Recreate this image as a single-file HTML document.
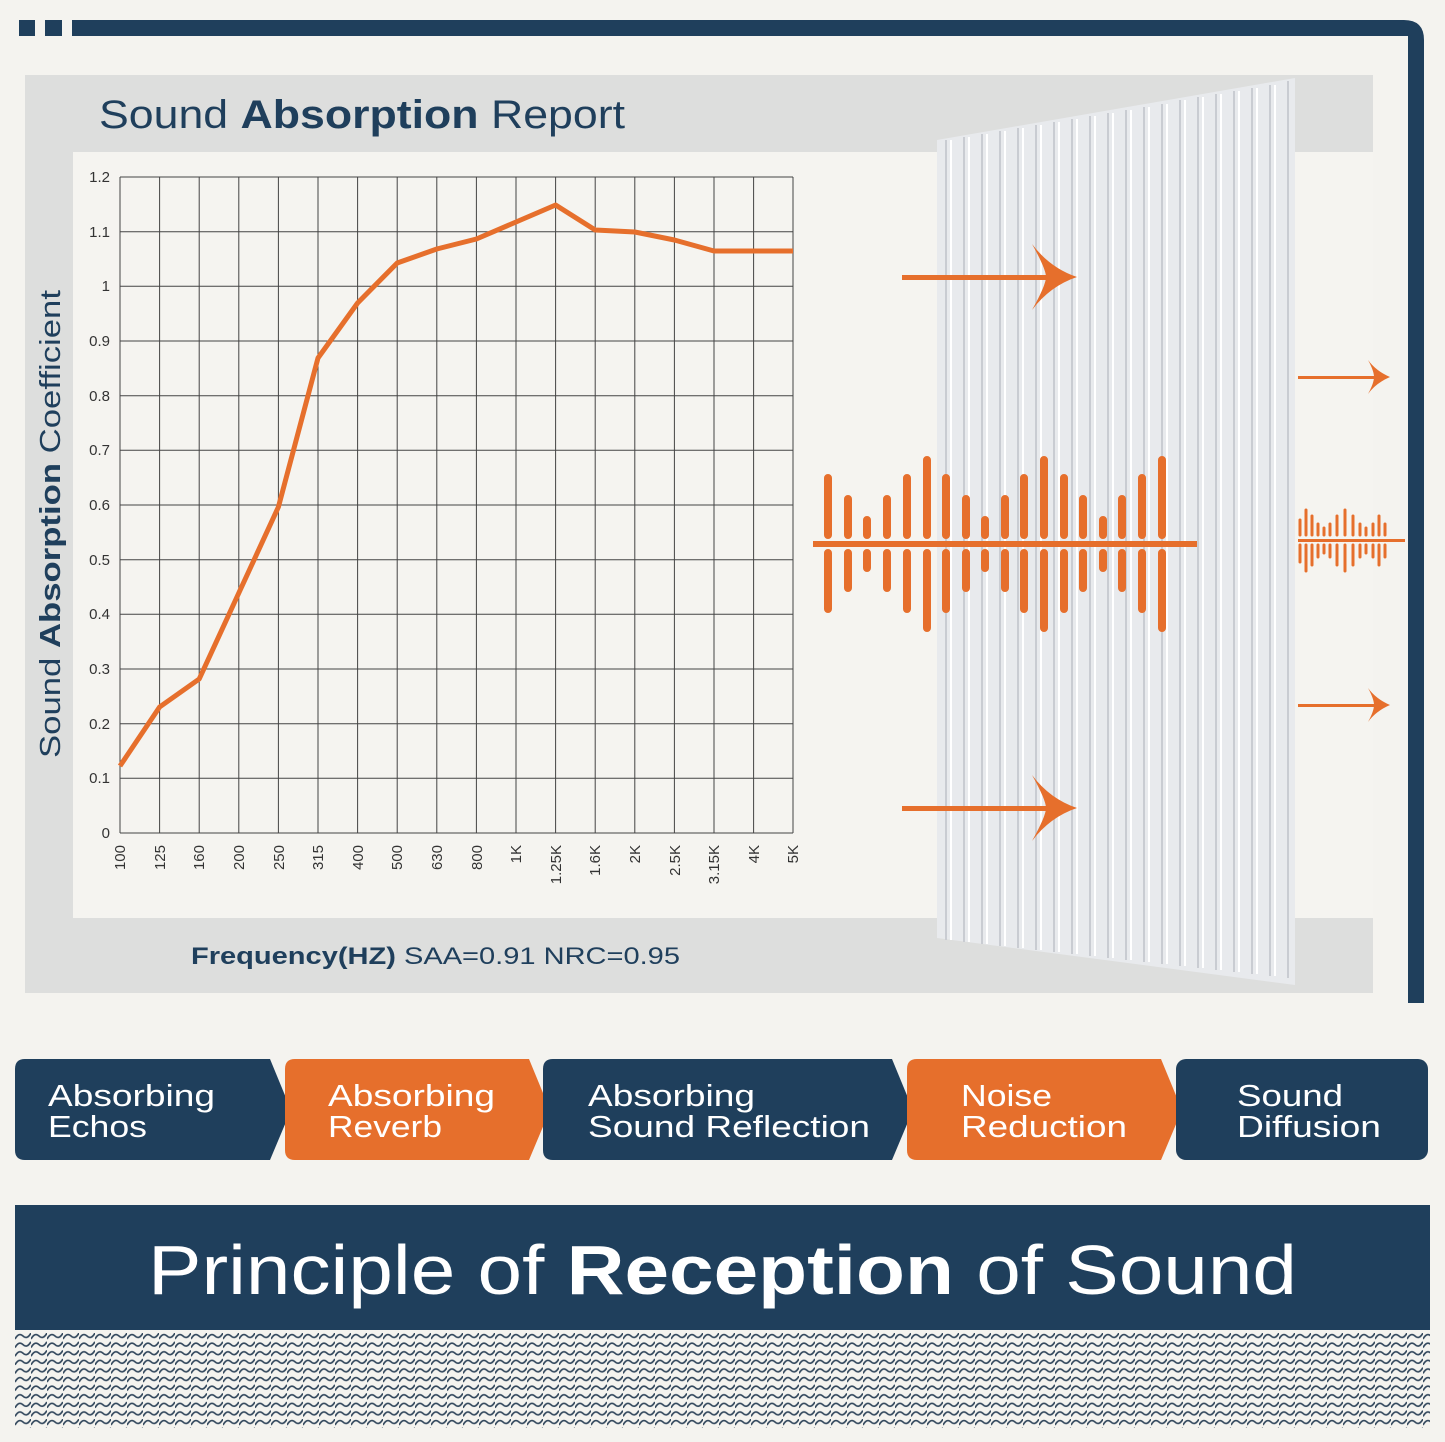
<!DOCTYPE html>
<html><head><style>
html,body{margin:0;padding:0;background:#f4f3ef;}
svg{display:block;font-family:"Liberation Sans",sans-serif;}
</style></head><body>
<svg width="1445" height="1442" viewBox="0 0 1445 1442" xmlns="http://www.w3.org/2000/svg">
<defs>
<pattern id="wv" x="15" y="1333" width="16" height="8.6" patternUnits="userSpaceOnUse">
<path d="M0 6 Q4 -1 8 3 Q12 7 16 0" fill="none" stroke="#34495e" stroke-width="1.7"/>
</pattern>
</defs>
<rect width="1445" height="1442" fill="#f4f3ef"/>
<!-- frame -->
<rect x="19" y="20" width="16" height="16" fill="#1f3f5c"/>
<rect x="45" y="20" width="17" height="16" fill="#1f3f5c"/>
<path d="M72 20 H1404 Q1424 20 1424 40 V1003 H1408 V36 H72 Z" fill="#1f3f5c"/>
<!-- panel -->
<rect x="25" y="75" width="1348" height="918" fill="#dddedd"/>
<rect x="73" y="152" width="1300" height="766" fill="#f5f4f0"/>
<text x="99" y="128" font-size="40" fill="#1f3f5c" textLength="526" lengthAdjust="spacingAndGlyphs">Sound <tspan font-weight="bold">Absorption</tspan> Report</text>
<text transform="translate(60 758) rotate(-90)" font-size="29" fill="#1f3f5c" textLength="468" lengthAdjust="spacingAndGlyphs">Sound <tspan font-weight="bold">Absorption</tspan> Coefficient</text>
<text x="191" y="964" font-size="24" fill="#1f3f5c" textLength="489" lengthAdjust="spacingAndGlyphs"><tspan font-weight="bold">Frequency(HZ)</tspan>  SAA=0.91  NRC=0.95</text>
<!-- grid -->
<g stroke="#444" stroke-width="1">
<path d="M120 177H793M120 231.7H793M120 286.3H793M120 341H793M120 395.7H793M120 450.3H793M120 505H793M120 559.7H793M120 614.3H793M120 669H793M120 723.7H793M120 778.3H793M120 833H793"/>
<path d="M120 177V833M159.6 177V833M199.2 177V833M238.8 177V833M278.4 177V833M318 177V833M357.6 177V833M397.2 177V833M436.8 177V833M476.4 177V833M516 177V833M555.6 177V833M595.2 177V833M634.8 177V833M674.4 177V833M714 177V833M753.6 177V833M793 177V833"/>
</g>
<g font-size="15" fill="#333" text-anchor="end">
<text x="110" y="182">1.2</text><text x="110" y="237">1.1</text><text x="110" y="291">1</text><text x="110" y="346">0.9</text><text x="110" y="401">0.8</text><text x="110" y="455">0.7</text><text x="110" y="510">0.6</text><text x="110" y="565">0.5</text><text x="110" y="619">0.4</text><text x="110" y="674">0.3</text><text x="110" y="729">0.2</text><text x="110" y="783">0.1</text><text x="110" y="838">0</text>
</g>
<g font-size="15" fill="#333" text-anchor="end">
<text transform="translate(125 845) rotate(-90)">100</text>
<text transform="translate(165 845) rotate(-90)">125</text>
<text transform="translate(204 845) rotate(-90)">160</text>
<text transform="translate(244 845) rotate(-90)">200</text>
<text transform="translate(284 845) rotate(-90)">250</text>
<text transform="translate(323 845) rotate(-90)">315</text>
<text transform="translate(363 845) rotate(-90)">400</text>
<text transform="translate(402 845) rotate(-90)">500</text>
<text transform="translate(442 845) rotate(-90)">630</text>
<text transform="translate(482 845) rotate(-90)">800</text>
<text transform="translate(521 845) rotate(-90)">1K</text>
<text transform="translate(561 845) rotate(-90)">1.25K</text>
<text transform="translate(600 845) rotate(-90)">1.6K</text>
<text transform="translate(640 845) rotate(-90)">2K</text>
<text transform="translate(680 845) rotate(-90)">2.5K</text>
<text transform="translate(719 845) rotate(-90)">3.15K</text>
<text transform="translate(759 845) rotate(-90)">4K</text>
<text transform="translate(798 845) rotate(-90)">5K</text>
</g>
<polyline points="120,766 159.6,707 199.2,679 238.8,593 278.4,507 318,358 357.6,303 397.2,263 436.8,249 476.4,239 516,222 555.6,205 595.2,230 634.8,232 674.4,240 714,251 753.6,251 793,251" fill="none" stroke="#e66f2c" stroke-width="5" stroke-linejoin="round"/>
<!-- acoustic panel -->
<polygon points="937,140 1295,78 1295,985 937,938" fill="#e8eaed"/>
<g stroke="#c9ccd2" stroke-width="2">
<path d="M946 140V940M964 137V942M982 134V944M1000 131V946M1018 128V948M1036 125V950M1054 122V952M1072 119V954M1090 116V956M1108 113V958M1126 110V960M1144 107V962M1162 104V964M1180 100V966M1198 97V968M1216 94V970M1234 91V972M1252 88V974M1270 85V976M1288 81V978"/>
</g>
<g stroke="#fff" stroke-width="2">
<path d="M951 140V940M969 137V942M987 134V944M1005 131V946M1023 128V948M1041 125V950M1059 122V952M1077 119V954M1095 116V956M1113 113V958M1131 110V960M1149 107V962M1167 104V964M1185 100V966M1203 97V968M1221 94V970M1239 91V972M1257 88V974M1275 85V976"/>
</g>
<!-- arrows -->
<g fill="#e66f2c">
<rect x="902" y="275" width="160" height="5"/>
<path d="M1032 244 Q1050 268 1077 277 Q1050 286 1032 310 Q1046 285 1046 277 Q1046 269 1032 244Z"/>
<rect x="902" y="806" width="160" height="5"/>
<path d="M1032 775 Q1050 799 1077 808 Q1050 817 1032 841 Q1046 816 1046 808 Q1046 800 1032 775Z"/>
<rect x="1298" y="376" width="80" height="3"/>
<path d="M1368 360 Q1376 371 1390 377 Q1376 383 1368 394 Q1374 383 1374 377 Q1374 371 1368 360Z"/>
<rect x="1298" y="704" width="80" height="3"/>
<path d="M1368 688 Q1376 699 1390 705 Q1376 711 1368 722 Q1374 711 1374 705 Q1374 699 1368 688Z"/>
</g>
<!-- waveform -->
<rect x="813" y="541" width="384" height="6" fill="#e66f2c"/>
<g stroke="#e66f2c" stroke-width="8" stroke-linecap="round">
<path d="M828 478V535M828 553V609M848 499V535M848 553V588M867 520V535M867 553V568M887 499V535M887 553V588M907 478V535M907 553V609M927 460V535M927 553V628M946 478V535M946 553V609M966 499V535M966 553V588M985 520V535M985 553V568M1005 499V535M1005 553V588M1024 478V535M1024 553V609M1044 460V535M1044 553V628M1064 478V535M1064 553V609M1083 499V535M1083 553V588M1103 520V535M1103 553V568M1122 499V535M1122 553V588M1142 478V535M1142 553V609M1162 460V535M1162 553V628"/>
</g>
<rect x="1298" y="539" width="107" height="3" fill="#e66f2c"/>
<g stroke="#e66f2c" stroke-width="3" stroke-linecap="round">
<path d="M1300 520V535M1300 545V562M1306 510V535M1306 545V571M1312 516V535M1312 545V565M1318 524V535M1318 545V557M1324 528V535M1324 545V553M1330 524V535M1330 545V557M1337 516V535M1337 545V565M1345 510V535M1345 545V571M1353 516V535M1353 545V565M1360 524V535M1360 545V557M1366 528V535M1366 545V553M1373 524V535M1373 545V557M1379 516V535M1379 545V565M1385 524V535M1385 545V557"/>
</g>
<!-- buttons -->
<path d="M25 1059 H270 L291 1110 L270 1160 H25 Q15 1160 15 1150 V1069 Q15 1059 25 1059Z" fill="#1f3f5c"/>
<path d="M295 1059 H529 L550 1110 L529 1160 H295 Q285 1160 285 1150 V1069 Q285 1059 295 1059Z" fill="#e66f2c"/>
<path d="M553 1059 H892 L913 1110 L892 1160 H553 Q543 1160 543 1150 V1069 Q543 1059 553 1059Z" fill="#1f3f5c"/>
<path d="M917 1059 H1161 L1182 1110 L1161 1160 H917 Q907 1160 907 1150 V1069 Q907 1059 917 1059Z" fill="#e66f2c"/>
<rect x="1176" y="1059" width="252" height="101" rx="10" fill="#1f3f5c"/>
<g font-size="31" fill="#fff" lengthAdjust="spacingAndGlyphs">
<text x="48" y="1106" textLength="167" lengthAdjust="spacingAndGlyphs">Absorbing</text><text x="48" y="1137" textLength="99" lengthAdjust="spacingAndGlyphs">Echos</text>
<text x="328" y="1106" textLength="167" lengthAdjust="spacingAndGlyphs">Absorbing</text><text x="328" y="1137" textLength="114" lengthAdjust="spacingAndGlyphs">Reverb</text>
<text x="588" y="1106" textLength="167" lengthAdjust="spacingAndGlyphs">Absorbing</text><text x="588" y="1137" textLength="282" lengthAdjust="spacingAndGlyphs">Sound Reflection</text>
<text x="961" y="1106" textLength="91" lengthAdjust="spacingAndGlyphs">Noise</text><text x="961" y="1137" textLength="166" lengthAdjust="spacingAndGlyphs">Reduction</text>
<text x="1237" y="1106" textLength="106" lengthAdjust="spacingAndGlyphs">Sound</text><text x="1237" y="1137" textLength="144" lengthAdjust="spacingAndGlyphs">Diffusion</text>
</g>
<!-- banner -->
<rect x="15" y="1205" width="1415" height="125" fill="#1f3f5c"/>
<text x="148" y="1294" font-size="70" fill="#fff" textLength="1149" lengthAdjust="spacingAndGlyphs">Principle of <tspan font-weight="bold">Reception</tspan> of Sound</text>
<rect x="15" y="1333" width="1415" height="95" fill="url(#wv)"/>
</svg>
</body></html>
